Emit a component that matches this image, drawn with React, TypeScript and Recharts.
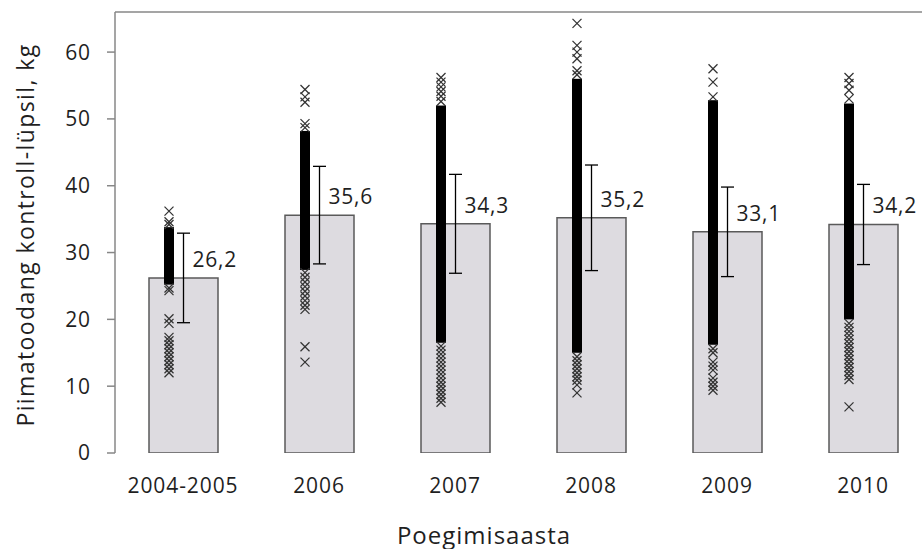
import React from 'react';
import {
  ComposedChart,
  Bar,
  XAxis,
  YAxis,
  Scatter,
  ErrorBar,
  LabelList,
  ReferenceLine,
} from 'recharts';

// Calving years
const years = ['2004-2005', '2006', '2007', '2008', '2009', '2010'];

// Mean milk yield per test day (kg) and its standard deviation
const meanYield = [26.2, 35.6, 34.3, 35.2, 33.1, 34.2];
const sdYield = [6.7, 7.3, 7.4, 7.9, 6.7, 6.0];

// Range where individual test-day records overlap into a solid column
const denseLow = [25.2, 27.4, 16.5, 15.0, 16.2, 20.0];
const denseHigh = [33.8, 48.2, 52.0, 56.0, 52.8, 52.3];

// Individual records outside the solid column
const obs2004 = [36.2, 34.6, 34.2, 24.7, 24.3, 20.1, 19.4, 17.3, 16.8, 16.2, 15.6, 15.0, 14.4, 13.8, 13.2, 12.6, 12.0];
const obs2006 = [54.4, 53.3, 52.5, 49.3, 48.7, 27.0, 26.3, 25.6, 24.9, 24.2, 23.5, 22.8, 22.1, 21.5, 15.9, 13.6];
const obs2007 = [56.2, 55.5, 54.8, 54.1, 53.4, 52.6, 16.0, 15.4, 14.8, 14.2, 13.6, 13.0, 12.4, 11.8, 11.2, 10.6, 10.0, 9.4, 8.8, 8.2, 7.6];
const obs2008 = [64.3, 61.0, 60.0, 59.0, 57.2, 56.6, 14.4, 13.8, 13.2, 12.6, 12.0, 11.4, 10.9, 10.2, 9.0];
const obs2009 = [57.5, 55.5, 53.3, 15.6, 15.0, 13.6, 13.0, 12.4, 11.2, 10.6, 10.0, 9.4];
const obs2010 = [56.2, 55.3, 54.3, 53.0, 19.4, 18.8, 18.2, 17.6, 17.0, 16.4, 15.8, 15.2, 14.6, 14.0, 13.4, 12.8, 12.2, 11.6, 11.0, 6.9];

const yTicks = [0, 10, 20, 30, 40, 50, 60];
const yMax = 66;

const FONT = '"Open Sans", sans-serif';
const TEXT = '#1f1f1f';
const AXIS = '#878787';
const MARK_SHIFT = -14;

const rows = years.map((year, i) => ({
  year,
  pos: i,
  mean: meanYield[i],
  sd: sdYield[i],
  dense: [denseLow[i], denseHigh[i]],
}));

const observations = [obs2004, obs2006, obs2007, obs2008, obs2009, obs2010].flatMap((vals, i) =>
  vals.map((value) => ({ pos: i, value }))
);

const boundaryTicks = years.map((_, i) => i - 0.5).concat(years.length - 0.5);

const CrossMark = (props: any) => {
  const { cx, cy } = props;
  if (cx == null || cy == null) return null;
  const x = cx + MARK_SHIFT;
  const r = 4.5;
  return (
    <g>
      <line x1={x - r} y1={cy - r} x2={x + r} y2={cy + r} stroke="#333" strokeWidth={1.3} />
      <line x1={x - r} y1={cy + r} x2={x + r} y2={cy - r} stroke="#333" strokeWidth={1.3} />
    </g>
  );
};

const DenseColumn = (props: any) => {
  const { x, y, width, height } = props;
  if (x == null) return null;
  const cx = x + width / 2 + MARK_SHIFT;
  const top = Math.min(y, y + height);
  return <rect x={cx - 5} y={top} width={10} height={Math.abs(height)} fill="#000" />;
};

const ValueLabel = (props: any) => {
  const { x, y, width, value } = props;
  return (
    <text
      x={x + width / 2 + 9}
      y={y - 19}
      dominantBaseline="central"
      fontFamily={FONT}
      fontSize={21}
      letterSpacing={0.8}
      fill={TEXT}
    >
      {String(value).replace('.', ',')}
    </text>
  );
};

const tickStyle = { fill: TEXT, fontSize: 21, fontFamily: FONT, letterSpacing: 0.9 };

export default function App() {
  return (
    <div
      style={{
        position: 'fixed',
        left: 0,
        top: 0,
        width: 922,
        height: 549,
        overflow: 'hidden',
        background: '#fff',
      }}
    >
      <ComposedChart
        width={940}
        height={549}
        data={rows}
        margin={{ top: 12, right: 9, bottom: 0, left: 0 }}
      >
        <XAxis
          xAxisId="pos"
          type="number"
          dataKey="pos"
          domain={[-0.5, years.length - 0.5]}
          allowDataOverflow
          ticks={boundaryTicks}
          interval={0}
          tick={false}
          height={1}
          axisLine={{ stroke: AXIS, strokeWidth: 1.5 }}
          tickLine={{ stroke: AXIS, strokeWidth: 1.5 }}
          tickSize={8}
        />
        <XAxis
          xAxisId="cat"
          type="category"
          dataKey="year"
          height={95}
          axisLine={false}
          tickLine={false}
          tickSize={0}
          tickMargin={25}
          interval={0}
          tick={tickStyle}
        />
        <XAxis xAxisId="core" type="category" dataKey="year" hide />
        <YAxis
          type="number"
          domain={[0, yMax]}
          allowDataOverflow
          ticks={yTicks}
          interval={0}
          width={115}
          axisLine={{ stroke: AXIS, strokeWidth: 1.5 }}
          tickLine={{ stroke: AXIS, strokeWidth: 1.5 }}
          tickSize={8}
          tickMargin={16}
          tick={tickStyle}
        />
        <ReferenceLine xAxisId="pos" y={yMax} stroke={AXIS} strokeWidth={1.5} />
        <Bar
          xAxisId="cat"
          dataKey="mean"
          barSize={69}
          fill="#DDDBE0"
          stroke="#5a5a5a"
          strokeWidth={1.5}
          isAnimationActive={false}
        >
          <ErrorBar dataKey="sd" width={6.5} stroke="#000" strokeWidth={1.3} direction="y" />
          <LabelList dataKey="mean" content={ValueLabel} />
        </Bar>
        <Bar
          xAxisId="core"
          dataKey="dense"
          barSize={10}
          shape={DenseColumn}
          isAnimationActive={false}
        />
        <Scatter
          xAxisId="pos"
          data={observations}
          dataKey="value"
          shape={CrossMark}
          isAnimationActive={false}
        />
      </ComposedChart>
      <div
        style={{
          position: 'absolute',
          left: 484,
          top: 534,
          transform: 'translate(-50%, -50%)',
          fontFamily: FONT,
          fontSize: 24,
          letterSpacing: 1,
          color: TEXT,
          whiteSpace: 'nowrap',
        }}
      >
        Poegimisaasta
      </div>
      <div
        style={{
          position: 'absolute',
          left: 25,
          top: 235,
          transform: 'translate(-50%, -50%) rotate(-90deg)',
          fontFamily: FONT,
          fontSize: 23,
          letterSpacing: 1.4,
          color: TEXT,
          whiteSpace: 'nowrap',
        }}
      >
        Piimatoodang kontroll-lüpsil, kg
      </div>
    </div>
  );
}
